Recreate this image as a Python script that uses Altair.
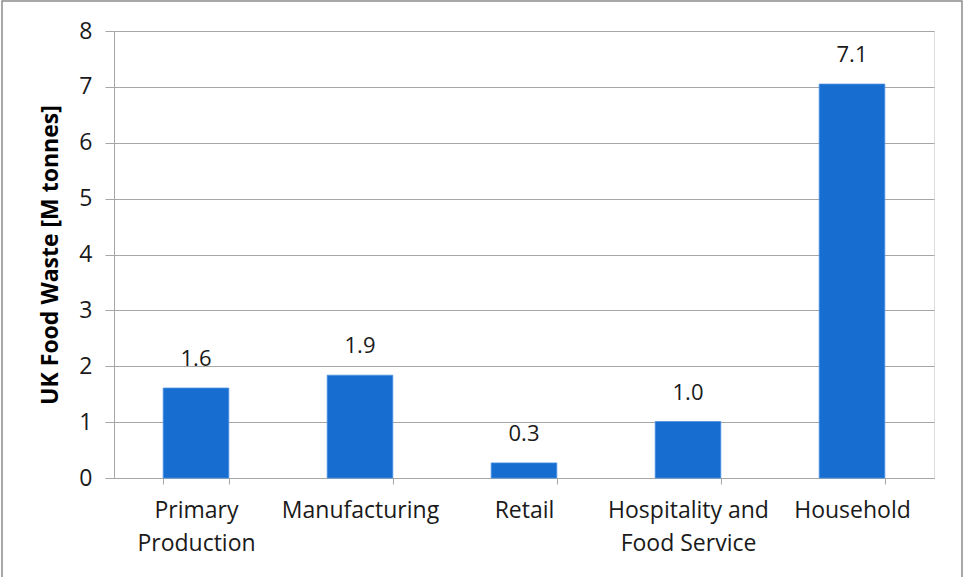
import altair as alt
import pandas as pd

categories = ["Primary Production", "Manufacturing", "Retail",
              "Hospitality and Food Service", "Household"]
values = [1.61, 1.84, 0.27, 1.01, 7.05]
value_labels = ["1.6", "1.9", "0.3", "1.0", "7.1"]
y_ticks = [0, 1, 2, 3, 4, 5, 6, 7, 8]
label_lines = {
    "Primary Production": ["Primary", "Production"],
    "Hospitality and Food Service": ["Hospitality and", "Food Service"],
}

df = pd.DataFrame({"category": categories, "value": values, "label": value_labels})

FONT = "Open Sans"
TEXT = "#1a1a1a"
GRID = "#a6a6a6"
BAR = "#176dd0"

label_expr = " : ".join(
    [f"datum.value == '{k}' ? {v!r}" for k, v in label_lines.items()] + ["datum.value"]
)

W, H = 820, 447

x = alt.X(
    "category:N",
    sort=categories,
    scale=alt.Scale(paddingInner=0.6, paddingOuter=0.3),
    axis=alt.Axis(
        title=None, labelAngle=0, labelExpr=label_expr, labelFont=FONT,
        labelFontSize=23, labelColor=TEXT, labelLineHeight=33, labelPadding=15,
        tickBand="extent", tickSize=6, tickColor=GRID, domainColor=GRID,
        labelBaseline="top", labelLimit=300,
    ),
)
y = alt.Y(
    "value:Q",
    scale=alt.Scale(domain=[0, 8], nice=False),
    axis=alt.Axis(
        title="UK Food Waste [M tonnes]", titleFont=FONT, titleFontSize=23,
        titleFontWeight="bold", titleColor="#000000", titlePadding=16,
        values=y_ticks, format="d", labelFont=FONT, labelFontSize=23,
        labelColor=TEXT, labelPadding=13, tickSize=9, tickColor=GRID,
        domainColor=GRID, gridColor=GRID, grid=True,
    ),
)

bars = alt.Chart(df).mark_bar(color=BAR, stroke="#4a90e2", strokeWidth=0.8).encode(x=x, y=y)
texts = alt.Chart(df).mark_text(
    dy=-17, font=FONT, fontSize=22, color=TEXT, baseline="bottom"
).encode(x=alt.X("category:N", sort=categories), y="value:Q", text="label:N")

frame = alt.Chart(pd.DataFrame({"k": [0]})).mark_rect(
    fill=None, stroke="#8c8c8c", strokeWidth=1.5, clip=False
).encode(
    x=alt.value(-112), x2=alt.value(848),
    y=alt.value(-30), y2=alt.value(560),
)

chart = alt.layer(frame, bars, texts).properties(
    width=W, height=H,
    autosize=alt.AutoSizeParams(type="none"),
    padding={"left": 114, "top": 31, "right": 29, "bottom": 99},
).configure_view(stroke=None).configure(background="white")

chart.save("out.html", embed_options={"renderer": "svg", "actions": False})
